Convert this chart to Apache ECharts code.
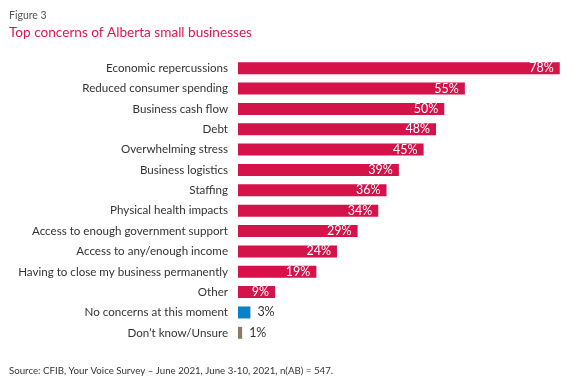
<!DOCTYPE html>
<html><head><meta charset="utf-8">
<script src="https://cdn.jsdelivr.net/npm/echarts@6/dist/echarts.min.js"></script>
<style>html,body{margin:0;padding:0;background:#fff}#c{width:581px;height:390px}</style>
</head><body><div id="c"></div>
<script>
var categories = ["Economic repercussions","Reduced consumer spending","Business cash flow","Debt","Overwhelming stress","Business logistics","Staffing","Physical health impacts","Access to enough government support","Access to any/enough income","Having to close my business permanently","Other","No concerns at this moment","Don\u2019t know/Unsure"];
var values = [78,55,50,48,45,39,36,34,29,24,19,9,3,1];
var barColors = ["#D3134A","#D3134A","#D3134A","#D3134A","#D3134A","#D3134A","#D3134A","#D3134A","#D3134A","#D3134A","#D3134A","#D3134A","#0A80C6","#8C7B6B"];
var FONT = "Lato";
var chart = echarts.init(document.getElementById('c'));
var data = values.map(function(v,i){
  var inside = i < 12;
  return {value:v, itemStyle:{color:barColors[i]},
    label:{position: inside ? 'insideRight' : 'right', color: inside ? '#fff' : '#333', distance: inside ? 6 : 7}};
});
chart.setOption({
  animation:false,
  textStyle:{fontFamily:FONT},
  graphic:[
    {type:'text', left:9, top:10, style:{text:'Figure 3', fill:'#555', font:'10.5px '+FONT}},
    {type:'text', left:9, top:26, style:{text:'Top concerns of Alberta small businesses', fill:'#E0174F', font:'13.6px '+FONT}},
    {type:'text', left:9, top:366, style:{text:'Source: CFIB, Your Voice Survey \u2013 June 2021, June 3-10, 2021, n(AB) = 547.', fill:'#333', font:'9.7px '+FONT}}
  ],
  grid:{left:238, top:58, width:330, height:285, containLabel:false},
  xAxis:{type:'value', min:0, max:80, show:false},
  yAxis:{type:'category', data:categories, inverse:true,
    axisLine:{show:false}, axisTick:{show:false},
    axisLabel:{color:'#333', fontSize:11.6, margin:10, fontFamily:FONT}},
  series:[{type:'bar', data:data, barWidth:12,
    label:{show:true, fontSize:12.5, fontFamily:FONT, formatter:'{c}%'}}]
});
</script></body></html>
